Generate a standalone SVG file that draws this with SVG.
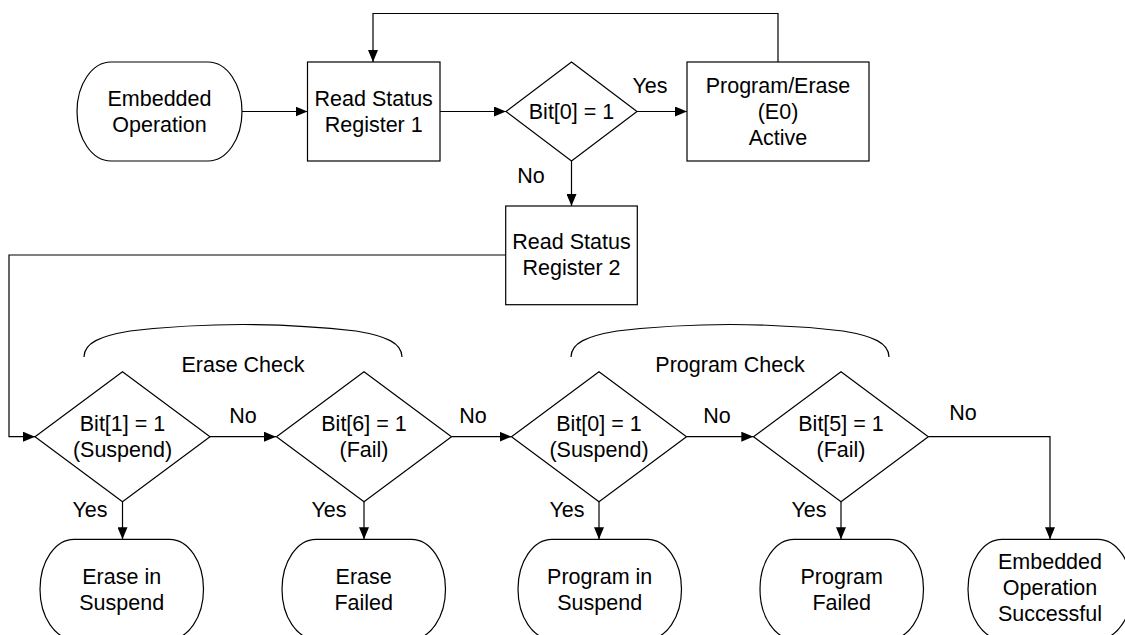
<svg xmlns="http://www.w3.org/2000/svg" width="1125" height="635" viewBox="0 0 1125 635">
<style>
.s{fill:#fff;stroke:#000;stroke-width:1.2}
.c{fill:none;stroke:#000;stroke-width:1.2}
text{font-family:"Liberation Sans",Arial,sans-serif;font-size:21.5px;fill:#000;text-anchor:middle}
</style>
<defs>
<marker id="a" viewBox="0 0 12 10" refX="12" refY="5" markerWidth="12" markerHeight="10" markerUnits="userSpaceOnUse" orient="auto">
<path d="M0,0 L12,5 L0,10 Z" fill="#000"/>
</marker>
</defs>
<rect width="1125" height="635" fill="#fff"/>
<g id="connectors">
<path class="c" d="M242,111.5 H307.5" marker-end="url(#a)"/>
<path class="c" d="M440,111.5 H506" marker-end="url(#a)"/>
<path class="c" d="M637,111.5 H687" marker-end="url(#a)"/>
<path class="c" d="M778,62 V13.5 H373 V62" marker-end="url(#a)"/>
<path class="c" d="M571.5,161 V206" marker-end="url(#a)"/>
<path class="c" d="M505.7,255 H9 V436.7 H35" marker-end="url(#a)"/>
<path class="c" d="M210,436.7 H276" marker-end="url(#a)"/>
<path class="c" d="M451.5,436.7 H511.5" marker-end="url(#a)"/>
<path class="c" d="M686.5,436.7 H753.3" marker-end="url(#a)"/>
<path class="c" d="M928.3,436.7 H1050 V539.3" marker-end="url(#a)"/>
<path class="c" d="M122.5,501.7 V539.3" marker-end="url(#a)"/>
<path class="c" d="M364,501.7 V539.3" marker-end="url(#a)"/>
<path class="c" d="M599,501.7 V539.3" marker-end="url(#a)"/>
<path class="c" d="M841,501.7 V539.3" marker-end="url(#a)"/>
<text x="650" y="93">Yes</text>
<text x="531" y="183">No</text>
<text x="243" y="423">No</text>
<text x="473" y="423">No</text>
<text x="717" y="423">No</text>
<text x="963" y="420">No</text>
<text x="90" y="517">Yes</text>
<text x="329" y="517">Yes</text>
<text x="567" y="517">Yes</text>
<text x="809" y="517">Yes</text>
</g>
<g id="n_start">
<rect class="s" x="77" y="62" width="165" height="99" rx="34" ry="49.5"/>
<text x="159.5" y="105.5">Embedded</text>
<text x="159.5" y="131.5">Operation</text>
</g>
<g id="n_rsr1">
<rect class="s" x="307.5" y="62" width="132.5" height="99"/>
<text x="373.7" y="105.5">Read Status</text>
<text x="373.7" y="131.5">Register 1</text>
</g>
<g id="n_bit0">
<path class="s" d="M571.5,62 L637,111.5 L571.5,161 L506,111.5 Z"/>
<text x="571.5" y="119">Bit[0] = 1</text>
</g>
<g id="n_active">
<rect class="s" x="687" y="62" width="182" height="99"/>
<text x="778" y="92.5">Program/Erase</text>
<text x="778" y="118.5">(E0)</text>
<text x="778" y="144.5">Active</text>
</g>
<g id="n_rsr2">
<rect class="s" x="505.7" y="206" width="131.6" height="98.7"/>
<text x="571.5" y="249">Read Status</text>
<text x="571.5" y="275">Register 2</text>
</g>
<g id="g_erase">
<path class="c" d="M84,357 C84,343 100,336 130,331 Q243,318 356,331 C386,336 402,343 402,357"/>
<text x="243" y="371.5">Erase Check</text>
</g>
<g id="g_program">
<path class="c" d="M571,357 C571,343 587,336 617,331 Q730,318 843,331 C873,336 889,343 889,357"/>
<text x="730" y="371.5">Program Check</text>
</g>
<g id="n_d1">
<path class="s" d="M122.5,371.7 L210,436.7 L122.5,501.7 L35,436.7 Z"/>
<text x="122.5" y="430.5">Bit[1] = 1</text>
<text x="122.5" y="456.5">(Suspend)</text>
</g>
<g id="n_d2">
<path class="s" d="M364,371.7 L451.5,436.7 L364,501.7 L276.5,436.7 Z"/>
<text x="364" y="430.5">Bit[6] = 1</text>
<text x="364" y="456.5">(Fail)</text>
</g>
<g id="n_d3">
<path class="s" d="M599,371.7 L686.5,436.7 L599,501.7 L511.5,436.7 Z"/>
<text x="599" y="430.5">Bit[0] = 1</text>
<text x="599" y="456.5">(Suspend)</text>
</g>
<g id="n_d4">
<path class="s" d="M841,371.7 L928.3,436.7 L841,501.7 L753.5,436.7 Z"/>
<text x="841" y="430.5">Bit[5] = 1</text>
<text x="841" y="456.5">(Fail)</text>
</g>
<g id="n_t1">
<rect class="s" x="40" y="539.3" width="163.5" height="100" rx="34" ry="50"/>
<text x="121.7" y="583.5">Erase in</text>
<text x="121.7" y="609.5">Suspend</text>
</g>
<g id="n_t2">
<rect class="s" x="282" y="539.3" width="163.5" height="100" rx="34" ry="50"/>
<text x="363.7" y="583.5">Erase</text>
<text x="363.7" y="609.5">Failed</text>
</g>
<g id="n_t3">
<rect class="s" x="518" y="539.3" width="163.5" height="100" rx="34" ry="50"/>
<text x="599.7" y="583.5">Program in</text>
<text x="599.7" y="609.5">Suspend</text>
</g>
<g id="n_t4">
<rect class="s" x="760" y="539.3" width="163.5" height="100" rx="34" ry="50"/>
<text x="841.7" y="583.5">Program</text>
<text x="841.7" y="609.5">Failed</text>
</g>
<g id="n_t5">
<rect class="s" x="968" y="539.3" width="164" height="100" rx="34" ry="50"/>
<text x="1050" y="569">Embedded</text>
<text x="1050" y="595">Operation</text>
<text x="1050" y="621">Successful</text>
</g>
</svg>
